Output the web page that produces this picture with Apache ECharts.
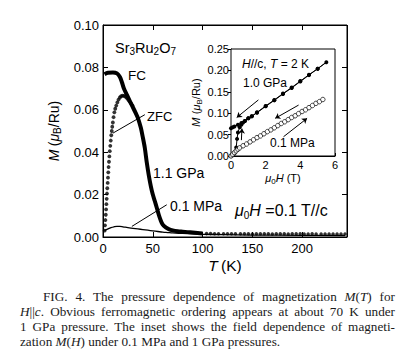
<!DOCTYPE html>
<html><head><meta charset="utf-8">
<script src="https://cdn.jsdelivr.net/npm/echarts@6/dist/echarts.min.js"></script>
<style>
html,body{margin:0;padding:0;background:#fff;}
#chart{position:absolute;left:0;top:0;width:408px;height:362px;}
#cap{position:absolute;left:20px;top:289px;width:375px;font-family:'Liberation Serif','Times New Roman',serif;font-size:13.2px;line-height:15px;color:#1a1a1a;}
#cap .j{text-align:justify;text-align-last:justify;}
#cap .first{padding-left:23px;}
</style></head><body>
<div id="chart"></div>
<div id="cap">
<div class="j first">FIG. 4. The pressure dependence of magnetization <i>M</i>(<i>T</i>) for</div>
<div class="j"><i>H</i>||<i>c</i>. Obvious ferromagnetic ordering appears at about 70 K under</div>
<div class="j">1 GPa pressure. The inset shows the field dependence of magneti-</div>
<div>zation <i>M</i>(<i>H</i>) under 0.1 MPa and 1 GPa pressures.</div>
</div>
<script>
// ---- main panel: M(T) at mu0H = 0.1 T // c ----
const xTicksMain = [0, 50, 100, 150, 200];
const yTicksMain = [0.00, 0.02, 0.04, 0.06, 0.08, 0.10];
const xMaxMain = 245;
const yMaxMain = 0.10;

// 1.1 GPa, field cooled (dense points drawn as a thick curve)
const fcT = [1.5, 5, 10, 14, 17, 19, 21, 24, 27, 30, 33, 35, 38, 40, 42, 44, 46, 48, 50, 52, 54, 56, 58, 60, 63, 66, 70, 75, 80, 85, 90, 95, 100];
const fcM = [0.0768, 0.0775, 0.0776, 0.0772, 0.0755, 0.0730, 0.0700, 0.0670, 0.0640, 0.0612, 0.0583, 0.0562, 0.0515, 0.0470, 0.0420, 0.0350, 0.0290, 0.0240, 0.0200, 0.0170, 0.0138, 0.0105, 0.0078, 0.0058, 0.0045, 0.0037, 0.0031, 0.0027, 0.0025, 0.0023, 0.0021, 0.0019, 0.0017];
// 1.1 GPa high-temperature tail (separate dots)
const tailT = [104, 108, 112, 116, 121, 125, 129, 133, 138, 142, 146, 150, 154, 158, 162, 166, 170, 174, 178, 182, 186, 190, 194, 198, 202, 206, 210, 214, 219, 223, 227, 231, 235, 239, 243];
const tailM = [0.0016, 0.0016, 0.0015, 0.0015, 0.0015, 0.0015, 0.0015, 0.0015, 0.0015, 0.0015, 0.0015, 0.0014, 0.0015, 0.0015, 0.0015, 0.0015, 0.0014, 0.0015, 0.0015, 0.0015, 0.0014, 0.0015, 0.0015, 0.0015, 0.0014, 0.0014, 0.0015, 0.0014, 0.0014, 0.0014, 0.0014, 0.0014, 0.0014, 0.0014, 0.0014];
// 1.1 GPa, zero-field cooled
const zfcT = [1.6, 2.0, 2.4, 2.8, 3.1, 3.4, 3.7, 4.0, 4.3, 4.7, 5.0, 5.3, 5.6, 6.0, 6.4, 6.8, 7.3, 7.8, 8.3, 8.8, 9.3, 9.9, 10.6, 11.4, 12.3, 13.3, 14.4, 15.6, 16.9, 18.2, 19.6, 21.0, 22.4, 23.8, 25.2, 26.6, 28.0, 29.5];
const zfcM = [0.0030, 0.0055, 0.0080, 0.0105, 0.0130, 0.0155, 0.0180, 0.0205, 0.0230, 0.0255, 0.0280, 0.0305, 0.0330, 0.0355, 0.0380, 0.0405, 0.0430, 0.0455, 0.0480, 0.0500, 0.0520, 0.0540, 0.0565, 0.0588, 0.0605, 0.0620, 0.0635, 0.0648, 0.0658, 0.0664, 0.0667, 0.0666, 0.0662, 0.0656, 0.0648, 0.0640, 0.0631, 0.0621];
// 0.1 MPa (ambient pressure)
const ambT = [1.5, 5, 8, 11, 14, 17, 20, 25, 30, 35, 40, 45, 50, 55, 60, 65, 70, 80, 90, 100, 120, 150, 200, 243];
const ambM = [0.0030, 0.0038, 0.0044, 0.0048, 0.0050, 0.0050, 0.0048, 0.0044, 0.0041, 0.0038, 0.0035, 0.0032, 0.0029, 0.0026, 0.0023, 0.0021, 0.0019, 0.0017, 0.0015, 0.0013, 0.0011, 0.0009, 0.0008, 0.0007];

// ---- inset: M(H) at T = 2 K ----
const insetXTicks = [0, 2, 4, 6];
const insetYTicks = [0.00, 0.05, 0.10, 0.15, 0.20, 0.25];
// 1.0 GPa: up sweep then down sweep
const gpaH = [0, 0.1, 0.2, 0.3, 0.35, 0.4, 0.5, 0.6, 0.7, 0.8, 1.0, 1.2, 1.5, 2.0, 2.5, 3.0, 3.5, 4.0, 4.5, 5.0, 5.5, 5.0, 4.5, 4.0, 3.5, 3.0, 2.5, 2.0, 1.5, 1.2, 1.0, 0.8, 0.6, 0.4, 0.2, 0.1, 0.0];
const gpaM = [0, 0.002, 0.006, 0.020, 0.040, 0.055, 0.067, 0.073, 0.078, 0.082, 0.088, 0.093, 0.102, 0.117, 0.131, 0.146, 0.160, 0.175, 0.190, 0.204, 0.219, 0.204, 0.189, 0.174, 0.159, 0.145, 0.130, 0.116, 0.101, 0.093, 0.088, 0.082, 0.077, 0.073, 0.069, 0.067, 0.065];
// 0.1 MPa
const mpaH = [0, 0.1, 0.2, 0.3, 0.4, 0.5, 0.7, 0.9, 1.1, 1.3, 1.5, 1.7, 1.9, 2.1, 2.3, 2.5, 2.7, 2.9, 3.1, 3.3, 3.5, 3.7, 3.9, 4.1, 4.3, 4.5, 4.7, 4.9, 5.1, 5.3];
const mpaM = [0, 0.004, 0.008, 0.012, 0.016, 0.019, 0.024, 0.028, 0.033, 0.038, 0.043, 0.047, 0.052, 0.057, 0.061, 0.066, 0.071, 0.076, 0.080, 0.085, 0.090, 0.094, 0.099, 0.104, 0.108, 0.113, 0.118, 0.123, 0.127, 0.132];

const FF = 'Liberation Sans, Arial, Helvetica, sans-serif';
const pair = (a, b) => a.map((v, i) => [v, b[i]]);
const black = '#000';

const chart = echarts.init(document.getElementById('chart'), null, {renderer: 'svg'});

const subRich = (fs, sfs) => ({
  n: {fontSize: fs, fontFamily: FF, color: black, verticalAlign: 'top', lineHeight: fs + 2},
  i: {fontSize: fs, fontFamily: FF, color: black, fontStyle: 'italic', verticalAlign: 'top', lineHeight: fs + 2},
  s: {fontSize: sfs, fontFamily: FF, color: black, verticalAlign: 'bottom', lineHeight: sfs, padding: [Math.round(fs * 0.45), 0, 0, 0]}
});
const axLine = () => ({show: true, onZero: false, lineStyle: {color: black, width: 1}});
const tickIn = (len) => ({show: true, inside: true, length: len, lineStyle: {color: black, width: 1}});

// frame of the main panel (top and right edges with inward ticks), in data coordinates
const tickLenX = 5 * xMaxMain / 244;   // ~5 px in T units
const tickLenY = 5 * yMaxMain / 212;   // ~5 px in M units
const frameLines = [
  [{coord: [0, yMaxMain]}, {coord: [xMaxMain, yMaxMain]}],
  [{coord: [xMaxMain, 0]}, {coord: [xMaxMain, yMaxMain]}]
].concat(xTicksMain.filter(v => v > 0).map(v => [{coord: [v, yMaxMain]}, {coord: [v, yMaxMain - tickLenY]}]))
 .concat(yTicksMain.filter(v => v > 0 && v < yMaxMain).map(v => [{coord: [xMaxMain, v]}, {coord: [xMaxMain - tickLenX, v]}]));

const option = {
  animation: false,
  backgroundColor: '#fff',
  grid: [
    {left: 103, right: 61, top: 25, bottom: 125, show: true, borderColor: black, borderWidth: 1},
    {left: 231, right: 73, top: 49, bottom: 206, show: true, backgroundColor: '#fff', borderColor: black, borderWidth: 1, z: 3}
  ],
  xAxis: [
    {gridIndex: 0, type: 'value', min: 0, max: xMaxMain, interval: 50, position: 'bottom',
     axisLine: axLine(), axisTick: tickIn(5), splitLine: {show: false},
     axisLabel: {color: black, fontSize: 13, fontFamily: FF, margin: 5, showMaxLabel: false,
       formatter: v => xTicksMain.includes(v) ? String(v) : ''},
     name: '{i|T} {n|(K)}', nameLocation: 'middle', nameGap: 20, nameMoveOverlap: false,
     nameTextStyle: {rich: {i: {fontSize: 15.5, fontFamily: FF, fontStyle: 'italic', color: black}, n: {fontSize: 15.5, fontFamily: FF, color: black}}}},
    {gridIndex: 1, type: 'value', min: 0, max: 6, interval: 1, position: 'bottom',
     axisLine: axLine(), axisTick: tickIn(3), splitLine: {show: false},
     axisLabel: {color: black, fontSize: 11, fontFamily: FF, margin: 3, formatter: v => insetXTicks.includes(v) ? String(v) : ''},
     name: '{i|μ}{s|0}{i|H}{n| (T)}', nameLocation: 'middle', nameGap: 16, nameMoveOverlap: false, nameTextStyle: {rich: subRich(11, 8)}}
  ],
  yAxis: [
    {gridIndex: 0, type: 'value', min: 0, max: yMaxMain, interval: 0.02, position: 'left',
     axisLine: axLine(), axisTick: tickIn(5), splitLine: {show: false},
     axisLabel: {color: black, fontSize: 13, fontFamily: FF, margin: 4, formatter: v => v.toFixed(2)},
     name: '{i|M} {n|(}{i|μ}{s|B}{n|/Ru)}', nameLocation: 'middle', nameGap: 14, nameTextStyle: {rich: subRich(14, 10)}},
    {gridIndex: 1, type: 'value', min: 0, max: 0.25, interval: 0.05, position: 'left',
     axisLine: axLine(), axisTick: {show: true, inside: false, length: 3, lineStyle: {color: black}}, splitLine: {show: false},
     axisLabel: {color: black, fontSize: 11, fontFamily: FF, margin: 2, formatter: v => v.toFixed(2)},
     name: '{i|M} {n|(}{i|μ}{s|B}{n|/Ru)}', nameLocation: 'middle', nameGap: 25, nameTextStyle: {rich: subRich(11, 8)}}
  ],
  series: [
    {name: 'FC 1.1 GPa', type: 'line', xAxisIndex: 0, yAxisIndex: 0, data: pair(fcT, fcM),
     showSymbol: false, smooth: 0.3, lineStyle: {color: black, width: 4}, z: 4,
     markLine: {silent: true, symbol: ['none', 'none'], label: {show: false}, z: 2,
       lineStyle: {color: black, width: 1, type: 'solid'}, data: frameLines}},
    {name: 'FC tail', type: 'scatter', xAxisIndex: 0, yAxisIndex: 0, data: pair(tailT, tailM),
     symbol: 'circle', symbolSize: 3.5, itemStyle: {color: black}, z: 4},
    {name: 'ZFC 1.1 GPa', type: 'scatter', xAxisIndex: 0, yAxisIndex: 0, data: pair(zfcT, zfcM),
     symbol: 'circle', symbolSize: 3.8, itemStyle: {color: black}, z: 4,
     markLine: {silent: true, symbol: ['none', 'none'], label: {show: false}, lineStyle: {color: black, width: 1, type: 'solid'},
       data: [[{coord: [42, 0.0577]}, {coord: [10, 0.0490]}]]}},
    {name: '0.1 MPa', type: 'line', xAxisIndex: 0, yAxisIndex: 0, data: pair(ambT, ambM),
     showSymbol: false, smooth: 0.4, lineStyle: {color: black, width: 1.3}, z: 4,
     markLine: {silent: true, symbol: ['none', 'none'], label: {show: false}, lineStyle: {color: black, width: 1, type: 'solid'},
       data: [[{coord: [64, 0.0152]}, {coord: [29, 0.0050]}]]}},
    {name: 'M(H) 1.0 GPa', type: 'line', xAxisIndex: 1, yAxisIndex: 1, data: pair(gpaH, gpaM),
     symbol: 'circle', symbolSize: 4, showSymbol: true, itemStyle: {color: black}, lineStyle: {color: black, width: 1}, z: 6},
    {name: 'M(H) 0.1 MPa', type: 'scatter', xAxisIndex: 1, yAxisIndex: 1, data: pair(mpaH, mpaM),
     symbol: 'circle', symbolSize: 4.5, itemStyle: {color: '#fff', borderColor: black, borderWidth: 0.9}, z: 6,
     markLine: {silent: true, symbol: ['none', 'arrow'], symbolSize: 5, label: {show: false}, lineStyle: {color: black, width: 1, type: 'solid'},
       data: [
         [{coord: [1.58, 0.131]}, {coord: [0.33, 0.090]}],
         [{coord: [3.9, 0.119]}, {coord: [2.55, 0.088]}],
         [{coord: [3.03, 0.045]}, {coord: [4.39, 0.088]}],
         [{coord: [0.6, 0.037]}, {coord: [0.63, 0.064]}]
       ]}}
  ],
  graphic: [
    {type: 'text', x: 115, y: 40, z: 10, style: {text: '{n|Sr}{s|3}{n|Ru}{s|2}{n|O}{s|7}', rich: subRich(14.5, 10)}},
    {type: 'text', x: 128, y: 75, z: 10, style: {text: 'FC', font: '13.5px ' + FF, fill: black, verticalAlign: 'middle'}},
    {type: 'text', x: 147, y: 116, z: 10, style: {text: 'ZFC', font: '13px ' + FF, fill: black, verticalAlign: 'middle'}},
    {type: 'text', x: 153, y: 172.5, z: 10, style: {text: '1.1 GPa', font: '14px ' + FF, fill: black, verticalAlign: 'middle'}},
    {type: 'text', x: 170, y: 206, z: 10, style: {text: '0.1 MPa', font: '14px ' + FF, fill: black, verticalAlign: 'middle'}},
    {type: 'text', x: 235, y: 202, z: 10, style: {text: '{i|μ}{s|0}{i|H}{n| =0.1 T//c}', rich: subRich(16, 10)}},
    {type: 'text', x: 242, y: 64, z: 10, style: {text: '{i|H}{n|//c, }{i|T}{n| = 2 K}',
      rich: {i: {fontSize: 12, fontFamily: FF, fontStyle: 'italic', color: black}, n: {fontSize: 12, fontFamily: FF, color: black}}, verticalAlign: 'middle'}},
    {type: 'text', x: 243, y: 83, z: 10, style: {text: '1.0 GPa', font: '12px ' + FF, fill: black, verticalAlign: 'middle'}},
    {type: 'text', x: 270, y: 143, z: 10, style: {text: '0.1 MPa', font: '12px ' + FF, fill: black, verticalAlign: 'middle'}}
  ]
};
chart.setOption(option);
</script>
</body></html>
